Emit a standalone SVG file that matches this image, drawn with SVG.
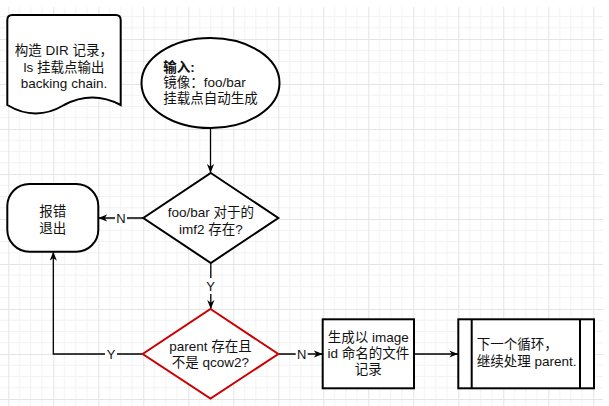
<svg xmlns="http://www.w3.org/2000/svg" width="609" height="406" viewBox="0 0 609 406">
<style>
text{font-family:"Liberation Sans","Noto Sans CJK SC",sans-serif;font-size:13.5px;fill:#111}
.c{text-anchor:middle}
.s{fill:#fff;stroke:#000;stroke-width:2}
.r{fill:#fff;stroke:#cc0000;stroke-width:2}
.e{fill:none;stroke:#000;stroke-width:1.3}
.lb{fill:#fff}
</style>
<defs>
<pattern id="g" patternUnits="userSpaceOnUse" x="8.3" y="-6" width="45" height="45">
<path d="M11.25,0V45M22.5,0V45M33.75,0V45M0,11.25H45M0,22.5H45M0,33.75H45" stroke="#f2f2f2" stroke-width="1"/>
<path d="M0.5,0V45M0,0.5H45" stroke="#e4e4e4" stroke-width="1"/>
</pattern>
<marker id="a" viewBox="0 0 10 8" refX="10" refY="4" markerWidth="9" markerHeight="7.5" markerUnits="userSpaceOnUse" orient="auto">
<path d="M0,0L10,4L0,8L3,4Z" fill="#000"/>
</marker>
</defs>
<rect width="609" height="406" fill="#fff"/>
<rect x="0" y="7" width="603" height="399" fill="url(#g)"/>

<g id="connectors">
<path class="e" d="M210.5,128V173" marker-end="url(#a)"/>
<path class="e" d="M143.3,218H98.3" marker-end="url(#a)"/>
<rect class="lb" x="115" y="210" width="12" height="16"/>
<text class="c" x="121" y="222.5" style="font-size:13px">N</text>
<path class="e" d="M210.8,263V309" marker-end="url(#a)"/>
<rect class="lb" x="204.5" y="278" width="12" height="16"/>
<text class="c" x="210.5" y="290.5" style="font-size:13px">Y</text>
<path class="e" d="M142.7,354H53.3V251.7" marker-end="url(#a)"/>
<rect class="lb" x="105" y="346" width="12" height="16"/>
<text class="c" x="111" y="358.5" style="font-size:13px">Y</text>
<path class="e" d="M278.3,354H322.7" marker-end="url(#a)"/>
<rect class="lb" x="295.7" y="346" width="12" height="16"/>
<text class="c" x="301.7" y="358.5" style="font-size:13px">N</text>
<path class="e" d="M414,354H458.3" marker-end="url(#a)"/>
</g>

<g id="note">
<path class="s" d="M7.3,20Q7.3,15 12.3,15L115.7,15Q120.7,15 120.7,20L120.7,105Q92.3,90 64,105Q35.6,122 7.3,105Z"/>
<text class="c" x="64" y="54.5">构造 DIR 记录，</text>
<text class="c" x="64" y="71.5">ls 挂载点输出</text>
<text class="c" x="64" y="88">backing chain.</text>
</g>

<g id="input">
<ellipse class="s" cx="210.5" cy="83" rx="69" ry="45"/>
<text x="163.3" y="71.5" style="font-weight:bold">输入:</text>
<text x="163.3" y="86.5">镜像：foo/bar</text>
<text x="163.3" y="103">挂载点自动生成</text>
</g>

<g id="check1">
<path class="s" d="M210.8,173L278.3,218L210.8,263L143.3,218Z"/>
<text class="c" x="210.8" y="216.5">foo/bar 对于的</text>
<text class="c" x="210.8" y="234">imf2 存在?</text>
</g>

<g id="error">
<rect class="s" x="7.3" y="184" width="91" height="67.7" rx="22" ry="22"/>
<text class="c" x="52.7" y="215.5">报错</text>
<text class="c" x="52.7" y="233">退出</text>
</g>

<g id="check2">
<path class="r" d="M210.5,309L278.3,354L210.5,398.5L142.7,354Z"/>
<text class="c" x="210.5" y="351">parent 存在且</text>
<text class="c" x="210.5" y="366.5">不是 qcow2?</text>
</g>

<g id="record">
<rect class="s" x="322.7" y="319.3" width="91.3" height="69"/>
<text class="c" x="368.3" y="342">生成以 image</text>
<text class="c" x="368.3" y="358">id 命名的文件</text>
<text class="c" x="368.3" y="374">记录</text>
</g>

<g id="loop">
<rect class="s" x="458.3" y="319.3" width="135.7" height="69"/>
<path class="s" d="M471.7,319.3V388.3M580,319.3V388.3"/>
<text x="476.7" y="349">下一个循环，</text>
<text x="476.7" y="365.7">继续处理 parent.</text>
</g>
</svg>
